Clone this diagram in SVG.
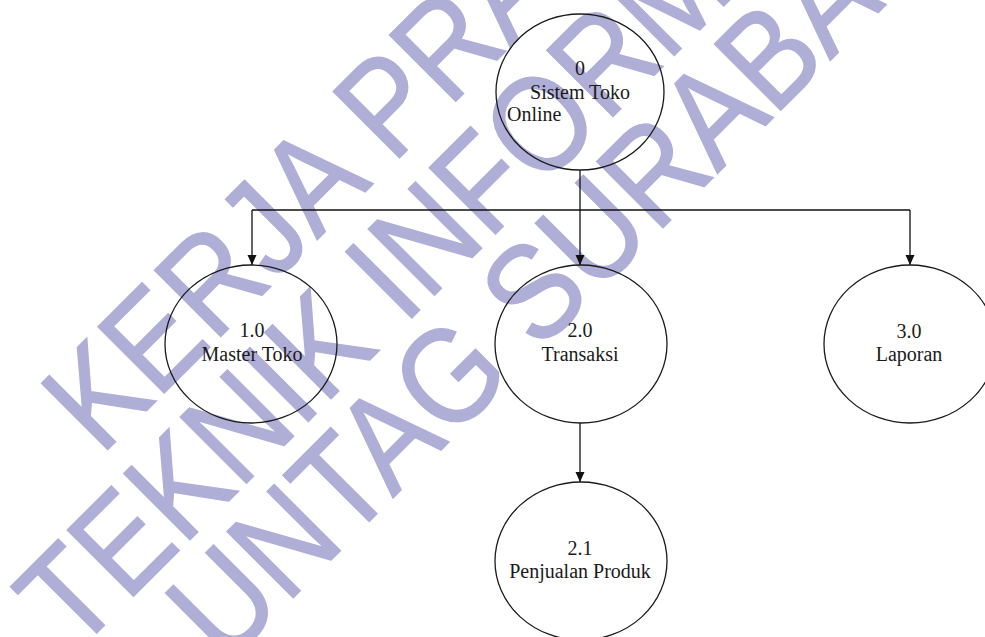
<svg xmlns="http://www.w3.org/2000/svg" width="985" height="637" viewBox="0 0 985 637">
<defs>
<style>
.wm{font-family:"Liberation Sans",Arial,sans-serif;font-size:136px;fill:#aeaed7;stroke:#aeaed7;stroke-width:1.5;text-anchor:middle}
.node{fill:none;stroke:#1a1a1a;stroke-width:1.3}
.lbl{font-family:"Liberation Serif","Times New Roman",serif;font-size:20px;fill:#1a1a1a;text-anchor:middle}
.edge{fill:none;stroke:#111;stroke-width:1.3}
</style>
<marker id="arr" viewBox="0 0 10 10" refX="10" refY="5" markerWidth="10" markerHeight="10" markerUnits="userSpaceOnUse" orient="auto">
<path d="M0,0.5 L10,5 L0,9.5 Z" fill="#111"/>
</marker>
</defs>
<rect width="985" height="637" fill="#fff"/>
<g id="watermark" transform="rotate(-45) scale(0.88,1)">
<text class="wm" x="266" y="394">KERJA PRAKTEK</text>
<text class="wm" x="258" y="516">TEKNIK INFORMATIKA</text>
<text class="wm" x="258" y="630">UNTAG SURABAYA</text>
</g>
<g id="connectors">
<path class="edge" d="M580,170 V210"/>
<path class="edge" d="M252,210 H910"/>
<path class="edge" d="M252,210 V265" marker-end="url(#arr)"/>
<path class="edge" d="M580,210 V265" marker-end="url(#arr)"/>
<path class="edge" d="M910,210 V265" marker-end="url(#arr)"/>
<path class="edge" d="M580,423 V482" marker-end="url(#arr)"/>
</g>
<g id="node-0">
<ellipse class="node" cx="580" cy="92" rx="84" ry="78"/>
<text class="lbl" x="580" y="75">0</text>
<text class="lbl" x="580" y="99">Sistem Toko</text>
<text class="lbl" x="507" y="121" style="text-anchor:start">Online</text>
</g>
<g id="node-1">
<ellipse class="node" cx="251" cy="344" rx="86" ry="79"/>
<text class="lbl" x="252" y="337">1.0</text>
<text class="lbl" x="252" y="361">Master Toko</text>
</g>
<g id="node-2">
<ellipse class="node" cx="581" cy="344" rx="86" ry="79"/>
<text class="lbl" x="580" y="337">2.0</text>
<text class="lbl" x="580" y="361">Transaksi</text>
</g>
<g id="node-3">
<ellipse class="node" cx="910" cy="344" rx="86" ry="79"/>
<text class="lbl" x="909" y="338">3.0</text>
<text class="lbl" x="909" y="361">Laporan</text>
</g>
<g id="node-21">
<ellipse class="node" cx="581" cy="561" rx="86" ry="79"/>
<text class="lbl" x="580" y="555">2.1</text>
<text class="lbl" x="580" y="578">Penjualan Produk</text>
</g>
</svg>
